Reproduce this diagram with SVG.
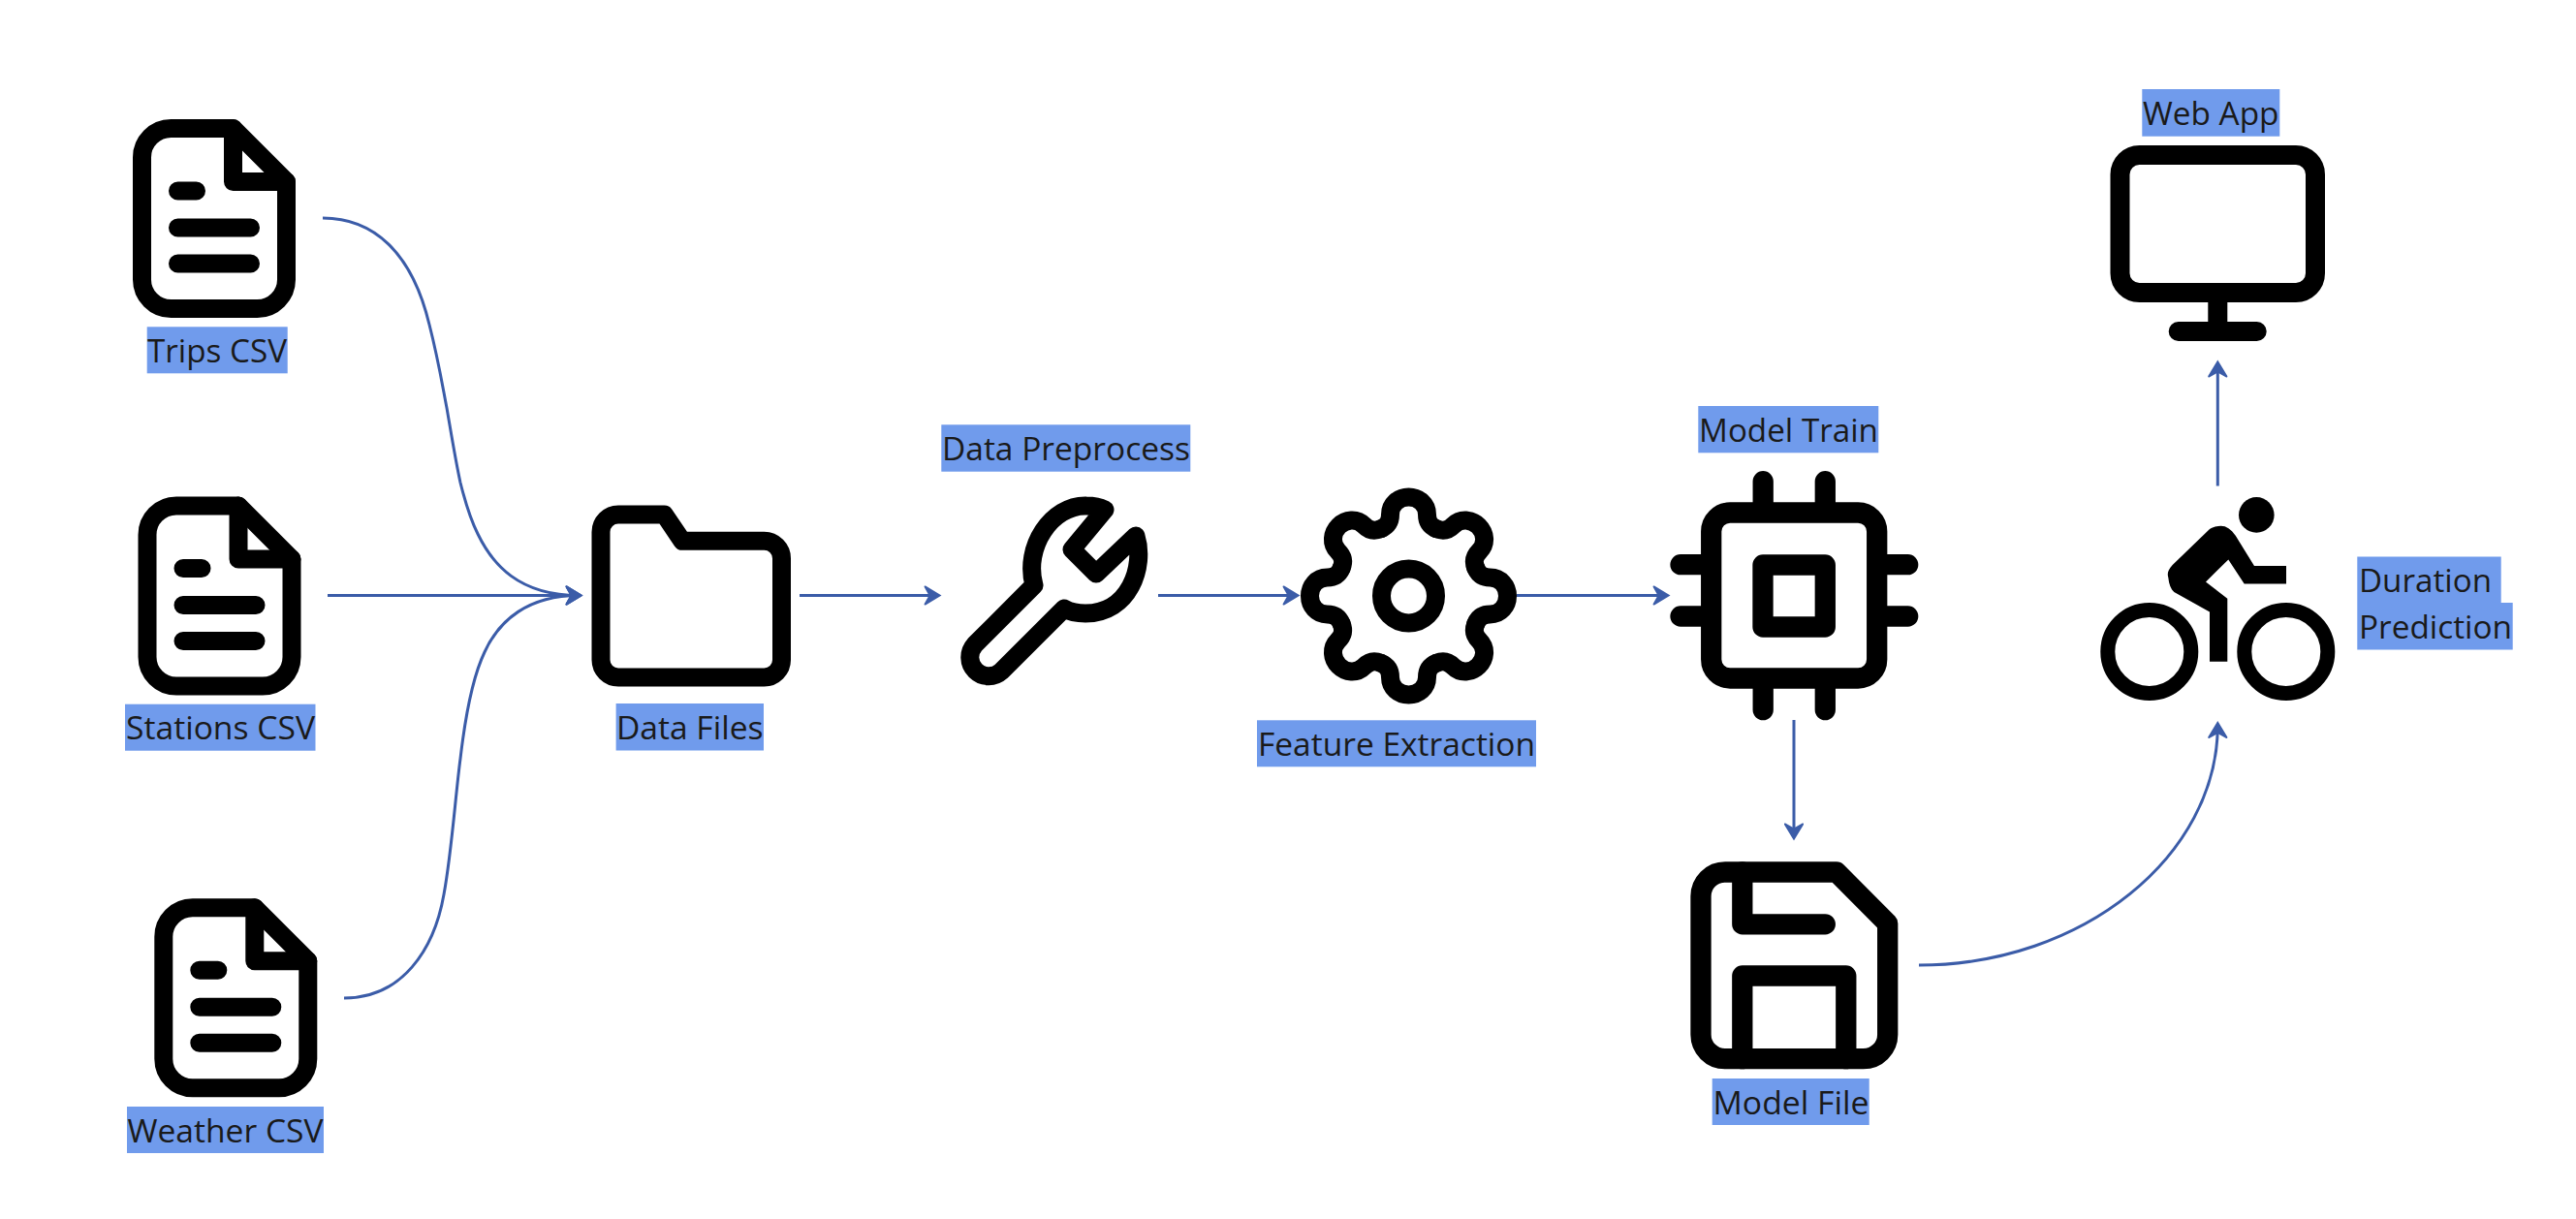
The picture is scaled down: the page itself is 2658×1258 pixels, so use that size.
<svg xmlns="http://www.w3.org/2000/svg" width="2658" height="1258" viewBox="0 0 2658 1258">
<style>
.ic{fill:none;stroke:#000;stroke-linecap:round;stroke-linejoin:round}
.s19{stroke-width:19}
.s21{stroke-width:21.3}
.s20{stroke-width:20}
.bg{fill:#709bec}
.t{font-family:"Open Sans","Noto Sans",sans-serif;font-size:33.6px;fill:#1a1a1a}
.c{fill:none;stroke:#3b5ca8;stroke-width:3}
</style>
<defs>
<marker id="ah" markerUnits="userSpaceOnUse" markerWidth="24" markerHeight="26" refX="15.500" refY="12" orient="auto">
<path d="M20 12L3.500 2Q1.800 1.600 2.100 3.200L7 12L2.100 20.800Q1.800 22.400 3.500 22Z" fill="#3b5ca8"/>
</marker>
<g id="doc">
<path class="ic s19" d="M9.500 40A30 30 0 0 1 39.500 9.500H103.500L158.500 64.500V165.500A30 30 0 0 1 128.500 195.500H39.500A30 30 0 0 1 9.500 165.500Z"/>
<path class="ic s19" d="M103.500 9.500V64.500H158.500M46.500 74H65.500M46.500 112H121.500M46.500 149H121.500"/>
</g>
<path id="tooth" class="ic s19" d="M-28.700 -69.300C-21.700 -72.300 -19 -77 -19 -84C-19 -95 -10 -102 0 -102C10 -102 19 -95 19 -84C19 -77 21.700 -72.300 28.700 -69.300"/>
</defs>
<rect width="2658" height="1258" fill="#fff"/>
<g id="connectors">
<path class="c" marker-end="url(#ah)" d="M333 225C385 225 425 260 443 335C452 370 456 395 461 421C466 450 470 475 475 498C481 522 486 537 493 551C508 582 535 614.500 597 614.500"/>
<path class="c" marker-end="url(#ah)" d="M338 614.500H597"/>
<path class="c" marker-end="url(#ah)" d="M355 1030C415 1030 448 980 458 923C466 880 470 820 475 783C480 740 487 700 500 673C515 640 545 614.500 597 614.500"/>
<path class="c" marker-end="url(#ah)" d="M825 614.500H967"/>
<path class="c" marker-end="url(#ah)" d="M1195 614.500H1337"/>
<path class="c" marker-end="url(#ah)" d="M1565 614.500H1719"/>
<path class="c" marker-end="url(#ah)" d="M1851 743V863"/>
<path class="c" marker-end="url(#ah)" d="M1980 996C2149 996 2288.300 883 2288.300 748.500"/>
<path class="c" marker-end="url(#ah)" d="M2288.300 501.500V376"/>
</g>
<g id="trips-csv">
<use href="#doc" x="137" y="123"/>
<rect class="bg" x="151.700" y="337.300" width="145" height="48"/>
<text class="t" x="152" y="373.800" textLength="144" lengthAdjust="spacingAndGlyphs">Trips CSV</text>
</g>
<g id="stations-csv">
<use href="#doc" x="142.500" y="512.500"/>
<rect class="bg" x="129" y="726.700" width="196.500" height="48"/>
<text class="t" x="130" y="763.200" textLength="195" lengthAdjust="spacingAndGlyphs">Stations CSV</text>
</g>
<g id="weather-csv">
<use href="#doc" x="159.300" y="927.300"/>
<rect class="bg" x="131" y="1142" width="203" height="48"/>
<text class="t" x="131.500" y="1178.500" textLength="202" lengthAdjust="spacingAndGlyphs">Weather CSV</text>
</g>
<g id="data-files">
<path class="ic s19" d="M620 549A18 18 0 0 1 638 531H685.500L704 558.300H788.500A18 18 0 0 1 806.500 576.300V681A18 18 0 0 1 788.500 699H638A18 18 0 0 1 620 681Z"/>
<rect class="bg" x="635.600" y="726" width="152.400" height="48.500"/>
<text class="t" x="636" y="763" textLength="151.500" lengthAdjust="spacingAndGlyphs">Data Files</text>
</g>
<g id="data-preprocess">
<path class="ic s19" d="M1140 526L1106 567L1131 592L1172 553C1182 585 1165 633 1120 633C1112 633 1105 632 1098 628L1033.200 692.700A19.400 19.400 0 0 1 1005.800 665.300L1067 604C1056 565 1085 521 1121 522C1128 522 1134 523 1140 526Z"/>
<rect class="bg" x="971.300" y="438.300" width="257" height="48.400"/>
<text class="t" x="972" y="475" textLength="256" lengthAdjust="spacingAndGlyphs">Data Preprocess</text>
</g>
<g id="feature-extraction">
<g transform="translate(1453.500 615)">
<use href="#tooth"/><use href="#tooth" transform="rotate(45)"/><use href="#tooth" transform="rotate(90)"/><use href="#tooth" transform="rotate(135)"/><use href="#tooth" transform="rotate(180)"/><use href="#tooth" transform="rotate(225)"/><use href="#tooth" transform="rotate(270)"/><use href="#tooth" transform="rotate(315)"/>
<circle class="ic s19" r="28"/>
</g>
<rect class="bg" x="1297" y="743.300" width="288" height="48"/>
<text class="t" x="1298" y="780" textLength="286" lengthAdjust="spacingAndGlyphs">Feature Extraction</text>
</g>
<g id="model-train">
<rect class="ic s21" x="1765.700" y="529" width="171" height="171" rx="19.500"/>
<rect class="ic s21" x="1819" y="583" width="64.300" height="64"/>
<path class="ic s21" d="M1819.200 496.700V520M1883.300 496.700V520M1819.200 709V732.600M1883.300 709V732.600M1734 582.700H1756M1734 636H1756M1947 582.700H1968.700M1947 636H1968.700"/>
<rect class="bg" x="1752.300" y="419" width="186" height="48.300"/>
<text class="t" x="1753" y="456" textLength="185" lengthAdjust="spacingAndGlyphs">Model Train</text>
</g>
<g id="model-file">
<path class="ic s21" d="M1755 925A25 25 0 0 1 1780 900H1895L1947.700 953V1067.700A25 25 0 0 1 1922.700 1092.700H1780A25 25 0 0 1 1755 1067.700Z"/>
<path class="ic s21" d="M1797.800 900V953.800H1883.300M1797.800 1092.700V1007H1904.800V1092.700"/>
<rect class="bg" x="1766.700" y="1113" width="162" height="48"/>
<text class="t" x="1767.500" y="1150" textLength="161" lengthAdjust="spacingAndGlyphs">Model File</text>
</g>
<g id="duration-prediction">
<circle cx="2328.300" cy="531.400" r="18.300"/>
<circle class="ic" style="stroke-width:15" cx="2217.800" cy="672.500" r="43"/>
<circle class="ic" style="stroke-width:15" cx="2358.800" cy="672.500" r="43"/>
<path d="M2280 682.800H2298.300V617.700L2276 600.400L2299.300 577.400L2315.700 602.500H2359V584H2326L2306.700 552.700C2302 546 2297 542.700 2291.700 542.700C2287 542.700 2283 544 2280 546L2241.700 583C2237 588 2236 592 2237.300 596C2238 603 2240 608 2243.300 611L2280 631.600Z"/>
<path class="bg" d="M2432.300 574.400H2580.700V622H2592.700V670.600H2432.300Z"/>
<text class="t" x="2434" y="611" textLength="137" lengthAdjust="spacingAndGlyphs">Duration</text>
<text class="t" x="2434" y="659" textLength="158" lengthAdjust="spacingAndGlyphs">Prediction</text>
</g>
<g id="web-app">
<rect class="ic s20" x="2187.500" y="160" width="201.500" height="142" rx="20"/>
<path class="ic s20" d="M2288.300 302V342M2247.700 342H2328.700"/>
<rect class="bg" x="2210.300" y="92" width="142" height="48.700"/>
<text class="t" x="2211" y="129" textLength="140.500" lengthAdjust="spacingAndGlyphs">Web App</text>
</g>
</svg>
